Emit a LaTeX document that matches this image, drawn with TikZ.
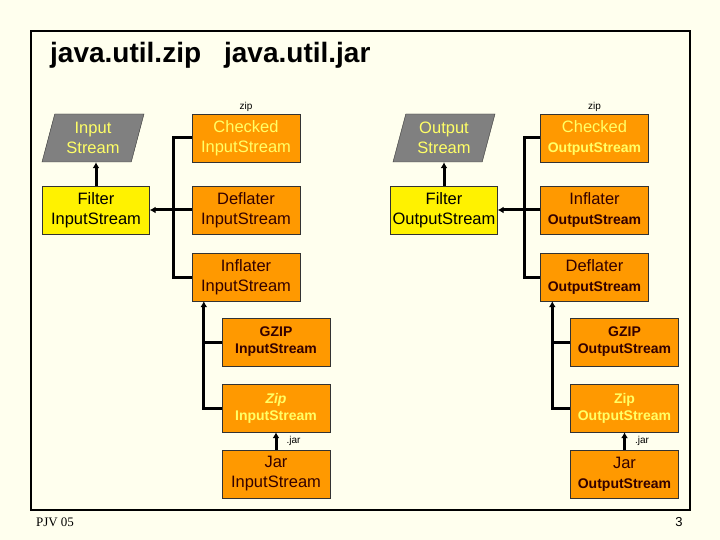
\documentclass[tikz,border=0pt]{standalone}
\usepackage{fontspec}
\setmainfont{Liberation Sans}
\newfontfamily\footfont{Liberation Serif}
\usetikzlibrary{shapes.geometric,positioning,arrows.meta}
\definecolor{pagebg}{RGB}{255,255,238}
\definecolor{boxorange}{RGB}{255,153,0}
\definecolor{streamgray}{RGB}{128,128,128}
\definecolor{paletext}{RGB}{255,255,102}
\definecolor{darktext}{RGB}{51,0,0}
\newcommand{\bigtxt}{\fontsize{16.5}{20}\selectfont}
\newcommand{\smalltxt}{\fontsize{14}{17}\selectfont\bfseries}
\tikzset{stream/.style={trapezium, trapezium left angle=68, trapezium right angle=112, trapezium stretches body, draw=black!80, fill=streamgray, text=paletext, minimum width=102pt, minimum height=48pt, inner sep=0pt, align=center, font=\bigtxt},
filterbox/.style={rectangle, draw=black!80, fill=yellow, text=black, minimum width=107pt, minimum height=48pt, inner sep=0pt, align=center, font=\bigtxt},
classbox/.style={rectangle, draw=black!80, fill=boxorange, text=darktext, minimum width=108pt, minimum height=48pt, inner sep=0pt, align=center, font=\bigtxt},
%yellow letters on orange
hotbox/.style={classbox, text=paletext},
tag/.style={font=\fontsize{10}{12}\selectfont, inner sep=1pt},
trunk/.style={line width=3pt},
arrowline/.style={line width=3pt, -{Latex[length=6pt,width=7pt]}}
}

\begin{document}
\begin{tikzpicture}[x=1pt,y=-1pt]
\fill[pagebg] (0,0) rectangle (720,540);
\useasboundingbox (0,0) rectangle (720,540);
\draw[line width=2pt] (31,31) rectangle (690,510);

\node[anchor=base west, inner sep=0pt, font=\fontsize{28}{32}\selectfont\bfseries] (title) at (50,63) {java.util.zip\hspace{23pt}java.util.jar};

% input side
\node[stream] (instream) at (93,138) {Input\\Stream};
\node[filterbox] (filterin) at (96,210) {Filter\\InputStream};
\node[hotbox] (checkedin) at (246,138) {Checked\\InputStream};
\node[classbox] (deflaterin) at (246,210) {Deflater\\InputStream};
\node[classbox] (inflaterin) at (246,277) {Inflater\\InputStream};
\node[classbox, font=\smalltxt] (gzipin) at (276,342) {GZIP\\InputStream};
\node[hotbox, font=\smalltxt] (zipin) at (276,408) {\textit{Zip}\\InputStream};
\node[classbox] (jarin) at (276,474) {Jar\\InputStream};
\node[tag, above=1pt of checkedin] (zipintag) {zip};

% output side
\node[stream] (outstream) at (444,138) {Output\\Stream};
\node[filterbox] (filterout) at (444,210) {Filter\\OutputStream};
\node[hotbox] (checkedout) at (594.5,138) {Checked\\{\smalltxt OutputStream}};
\node[classbox] (inflaterout) at (594.5,210) {Inflater\\{\smalltxt OutputStream}};
\node[classbox] (deflaterout) at (594.5,277) {Deflater\\{\smalltxt OutputStream}};
\node[classbox, font=\smalltxt] (gzipout) at (624.5,342) {GZIP\\OutputStream};
\node[hotbox, font=\smalltxt] (zipout) at (624.5,408) {Zip\\OutputStream};
\node[classbox] (jarout) at (624.5,474) {Jar\\{\smalltxt OutputStream}};
\node[tag, above=1pt of checkedout] (zipouttag) {zip};

% connectors, input side
\draw[arrowline] (filterin.north) -- (filterin.north |- instream.south);
\draw[trunk] (checkedin.west) -- ++(-18,0) |- (inflaterin.west);
\draw[arrowline] (deflaterin.west) -- (filterin.east);
\draw[trunk] (gzipin.west) -- ++(-18,0);
\draw[arrowline] (zipin.west) -| ([xshift=12pt]inflaterin.south west);
\draw[arrowline] (jarin.north) -- node[tag, right=8pt] (jarintag) {.jar} (zipin.south);

% connectors, output side
\draw[arrowline] (filterout.north) -- (filterout.north |- outstream.south);
\draw[trunk] (checkedout.west) -- ++(-16,0) |- (deflaterout.west);
\draw[arrowline] (inflaterout.west) -- (filterout.east);
\draw[trunk] (gzipout.west) -- ++(-18,0);
\draw[arrowline] (zipout.west) -| ([xshift=12pt]deflaterout.south west);
\draw[arrowline] (jarout.north) -- node[tag, right=8pt] (jarouttag) {.jar} (zipout.south);

\node[font=\footfont\fontsize{13}{15}\selectfont] (author) at (55,522) {PJV 05};
\node[font=\fontsize{13}{15}\selectfont] (page) at (679,522) {3};
\end{tikzpicture}
\end{document}
